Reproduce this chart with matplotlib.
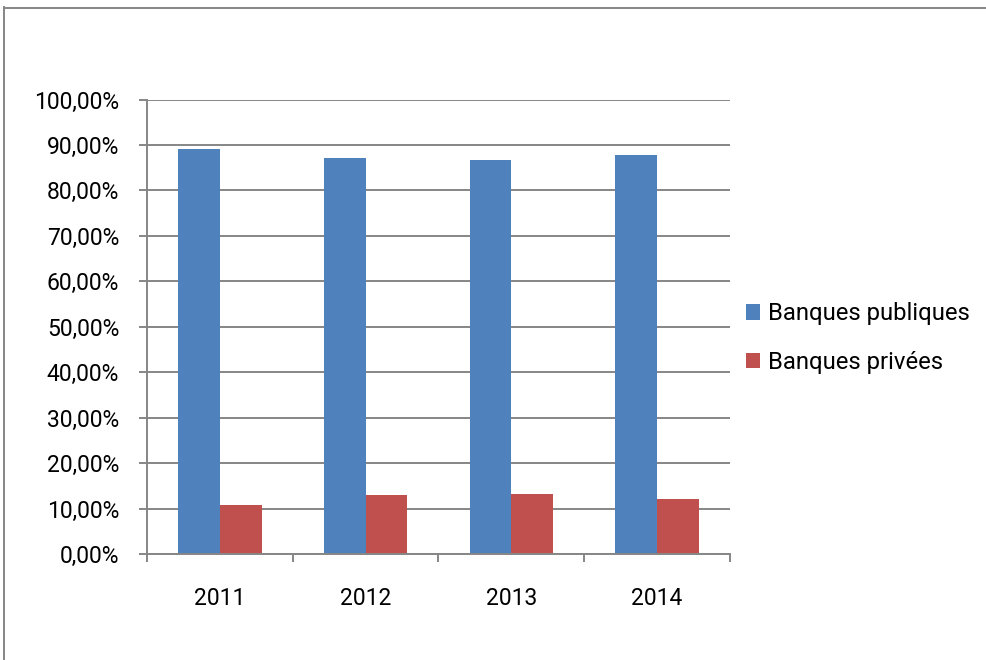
import matplotlib as mpl
import matplotlib.pyplot as plt
import numpy as np
from matplotlib.lines import Line2D
from matplotlib.ticker import FuncFormatter, FixedLocator

mpl.rcParams['font.family'] = ['Roboto', 'DejaVu Sans']

years = ['2011', '2012', '2013', '2014']
publiques = [89.2, 87.1, 86.7, 87.8]
privees = [10.8, 12.9, 13.3, 12.2]

grid_col = '#868686'
blue = '#4F81BD'
red = '#C0504D'

fig = plt.figure(figsize=[9.87, 6.6], dpi=100)
ax = fig.add_axes([147 / 987, 1 - 554 / 660, (730 - 147) / 987, (554 - 99.5) / 660])

x = np.arange(len(years))
w = 1 / 3.5  # excel gap width 150%
ax.bar(x - w / 2, publiques, w, color=blue, label='Banques publiques', zorder=3)
ax.bar(x + w / 2, privees, w, color=red, label='Banques privées', zorder=3)

ax.set_xlim(-0.5, len(years) - 0.5)
ax.set_ylim(0, 100)
ax.set_yticks(np.arange(0, 101, 10))
ax.yaxis.set_major_formatter(FuncFormatter(lambda v, p: "{:.2f}%".format(v).replace('.', ',')))
ax.grid(axis='y', color=grid_col, linewidth=1.4, zorder=0)

# category labels at centres, tick marks at boundaries
ax.set_xticks(x)
ax.set_xticklabels(years)
ax.xaxis.set_minor_locator(FixedLocator(np.arange(-0.5, len(years), 1.0)))
ax.tick_params(axis='x', which='major', length=0, pad=24, labelsize=16.5)
ax.tick_params(axis='x', which='minor', length=6, width=1.4, color=grid_col)
ax.tick_params(axis='y', length=6, width=1.4, color=grid_col, pad=14, labelsize=16.5)

for s in ['top', 'right']:
    ax.spines[s].set_visible(False)
for s in ['left', 'bottom']:
    ax.spines[s].set_color(grid_col)
    ax.spines[s].set_linewidth(1.4)
    ax.spines[s].set_zorder(4)

leg = fig.legend(loc='center left', bbox_to_anchor=(724 / 987, 1 - 338 / 660), frameon=False,
                 fontsize=17.2, handlelength=0.6, handleheight=0.6, handletextpad=0.35,
                 labelspacing=1.05)

# outer chart frame
fig.add_artist(Line2D([4.5 / 987, 4.5 / 987], [0, 1 - 7 / 660], transform=fig.transFigure,
                      color=grid_col, linewidth=1.4))
fig.add_artist(Line2D([4 / 987, 1], [1 - 7.5 / 660, 1 - 7.5 / 660], transform=fig.transFigure,
                      color=grid_col, linewidth=1.4))

plt.savefig('out.png', dpi=100)
plt.close('all')
